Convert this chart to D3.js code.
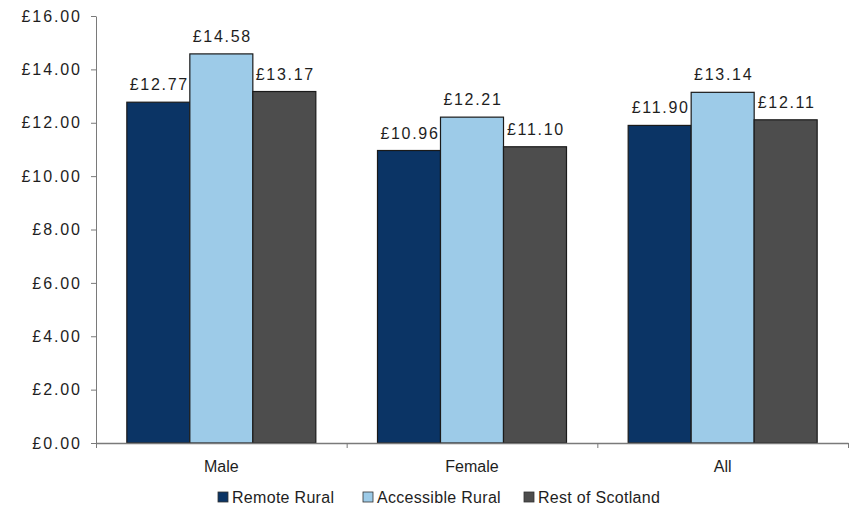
<!DOCTYPE html>
<html>
<head>
<meta charset="utf-8">
<script src="https://cdn.jsdelivr.net/npm/d3@7"></script>
<style>
  html, body { margin: 0; padding: 0; background: #fff; }
  svg text { font-family: Arial, "Liberation Sans", sans-serif; fill: #1e1e1e; }
</style>
</head>
<body>
<svg id="chart" width="850" height="508"></svg>
<script>
const categories = ["Male", "Female", "All"];
const seriesNames = ["Remote Rural", "Accessible Rural", "Rest of Scotland"];
const remoteRural = [12.77, 10.96, 11.90];
const accessibleRural = [14.58, 12.21, 13.14];
const restOfScotland = [13.17, 11.10, 12.11];
const yTicks = [0, 2, 4, 6, 8, 10, 12, 14, 16];
const colors = ["#0b3465", "#9dcbe8", "#4d4d4d"];

(function () {
const seriesValues = [remoteRural, accessibleRural, restOfScotland];
const data = categories.map((c, i) => ({
  category: c,
  values: seriesNames.map((s, j) => ({ series: s, value: seriesValues[j][i], idx: j }))
}));

const svg = d3.select("#chart");
const mLeft = 96, mRight = 848, mTop = 16, mBottom = 443;

const x0 = d3.scaleBand().domain(categories).range([mLeft, mRight]).paddingInner(0).paddingOuter(0);
const groupW = 189;
const x1 = d3.scaleBand().domain(seriesNames).range([0, groupW]).padding(0);
const y = d3.scaleLinear().domain([0, 16]).range([mBottom, mTop]);
const fmt = v => "£" + d3.format(".2f")(v);

// y axis
const yAxis = svg.append("g").attr("transform", `translate(${mLeft},0)`)
  .call(d3.axisLeft(y).tickValues(yTicks).tickSize(5).tickSizeOuter(0).tickPadding(11).tickFormat(fmt));
yAxis.selectAll("path, line").attr("stroke", "#7a7a7a");
yAxis.selectAll("text").attr("font-size", "16px").style("letter-spacing", "1.9px").attr("dx", "1.9px").attr("fill", "#1e1e1e");

// bars
const groups = svg.append("g").selectAll("g").data(data).join("g")
  .attr("transform", d => `translate(${x0(d.category) + (x0.bandwidth() - groupW) / 2},0)`);

groups.selectAll("rect").data(d => d.values).join("rect")
  .attr("x", d => x1(d.series))
  .attr("y", d => y(d.value))
  .attr("width", x1.bandwidth())
  .attr("height", d => mBottom - y(d.value))
  .attr("fill", d => colors[d.idx])
  .attr("stroke", "#1a1a1a")
  .attr("stroke-width", 1.2);

groups.selectAll("text.val").data(d => d.values).join("text")
  .attr("class", "val")
  .attr("x", d => x1(d.series) + x1.bandwidth() / 2 + 1)
  .attr("y", d => y(d.value) - 12)
  .attr("text-anchor", "middle")
  .attr("font-size", "16px")
  .style("letter-spacing", "1.7px")
  .text(d => fmt(d.value));

// x axis
const xAxisScale = d3.scaleLinear().domain([0, 3]).range([mLeft, mRight]);
const xAxis = svg.append("g").attr("transform", `translate(0,${mBottom})`)
  .call(d3.axisBottom(xAxisScale).tickValues([0, 1, 2, 3]).tickSize(5).tickSizeOuter(0).tickFormat(""));
xAxis.selectAll("path, line").attr("stroke", "#7a7a7a");
xAxis.select("path").attr("stroke-width", 1.5);

svg.append("g").selectAll("text").data(categories).join("text")
  .attr("x", d => x0(d) + x0.bandwidth() / 2)
  .attr("y", 472)
  .attr("text-anchor", "middle")
  .attr("font-size", "16px")
  .text(d => d);

// legend
const legendX = [218, 363, 524];
const legend = svg.append("g").selectAll("g").data(seriesNames).join("g")
  .attr("transform", (d, i) => `translate(${legendX[i]},0)`);
legend.append("rect").attr("x", 0).attr("y", 492).attr("width", 10).attr("height", 10)
  .attr("fill", (d, i) => colors[i]).attr("stroke", "#333").attr("stroke-width", 0.8);
legend.append("text").attr("x", 14).attr("y", 503).attr("font-size", "16px")
  .style("letter-spacing", "0.3px").text(d => d);
})();
</script>
</body>
</html>
